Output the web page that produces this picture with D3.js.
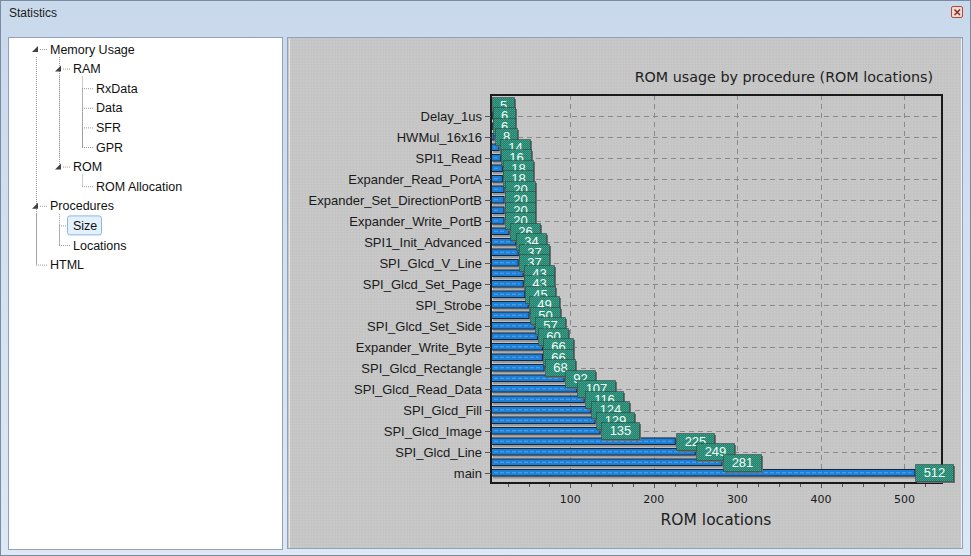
<!DOCTYPE html>
<html><head><meta charset="utf-8">
<script src="https://cdn.jsdelivr.net/npm/d3@7/dist/d3.min.js"></script>
<style>
html,body{margin:0;padding:0;background:#d9e4f1;}
svg{display:block;}
</style></head>
<body>
<svg id="c" width="971" height="556"></svg>
<script>
// ---- data ----
const procedures = [
  "Mul_16x16_U","Delay_1us","Delay_22us","HWMul_16x16","SPI1_Write","SPI1_Read",
  "Expander_Read_Byte","Expander_Read_PortA","Expander_Set_DirectionPortA","Expander_Set_DirectionPortB",
  "Expander_Write_PortA","Expander_Write_PortB","Expander_Init","SPI1_Init_Advanced",
  "SPI_Glcd_Set_X","SPI_Glcd_V_Line","SPI_Glcd_Write_Data","SPI_Glcd_Set_Page",
  "SPI_Glcd_H_Line","SPI_Strobe","SPI_Glcd_Dot","SPI_Glcd_Set_Side",
  "SPI_Glcd_Box","Expander_Write_Byte","SPI_Glcd_Circle","SPI_Glcd_Rectangle",
  "SPI_Glcd_Set_Font","SPI_Glcd_Read_Data","SPI_Glcd_Write_Char","SPI_Glcd_Fill",
  "SPI_Glcd_Init","SPI_Glcd_Image","SPI_Glcd_Write_Text","SPI_Glcd_Line",
  "SPI_Glcd_Fill_Rect","main"
];
const romLocations = [
  5,6,6,8,14,16,
  18,18,20,20,
  20,20,26,34,
  37,37,43,43,
  45,49,50,57,
  60,66,66,68,
  92,107,116,124,
  129,135,225,249,
  281,512
];
const xTicks = [100,200,300,400,500];
const xMinorStep = 25;
const chartTitle = "ROM usage by procedure (ROM locations)";
const xTitle = "ROM locations";
const treeItems = [
  {label:"Memory Usage", level:0, expander:true},
  {label:"RAM", level:1, expander:true},
  {label:"RxData", level:2},
  {label:"Data", level:2},
  {label:"SFR", level:2},
  {label:"GPR", level:2},
  {label:"ROM", level:1, expander:true},
  {label:"ROM Allocation", level:2},
  {label:"Procedures", level:0, expander:true},
  {label:"Size", level:1, selected:true},
  {label:"Locations", level:1},
  {label:"HTML", level:0}
];

const svg = d3.select("#c");
const defs = svg.append("defs");

// textures
const pTeal = defs.append("pattern").attr("id","teal").attr("width",2).attr("height",2).attr("patternUnits","userSpaceOnUse");
pTeal.append("rect").attr("width",2).attr("height",2).attr("fill","#237f6c");
pTeal.append("rect").attr("width",1).attr("height",1).attr("fill","#3fa58c");
pTeal.append("rect").attr("x",1).attr("y",1).attr("width",1).attr("height",1).attr("fill","#3a9a86");
const pGrey = defs.append("pattern").attr("id","grey").attr("width",3).attr("height",3).attr("patternUnits","userSpaceOnUse");
pGrey.append("rect").attr("width",3).attr("height",3).attr("fill","#c6c6c6");
pGrey.append("rect").attr("width",1).attr("height",1).attr("fill","#cbcbcb");
pGrey.append("rect").attr("x",2).attr("y",1).attr("width",1).attr("height",1).attr("fill","#c1c1c1");
const gTitle = defs.append("linearGradient").attr("id","tbar").attr("x1",0).attr("y1",0).attr("x2",0).attr("y2",1);
gTitle.append("stop").attr("offset","0").attr("stop-color","#c9d9ec");
gTitle.append("stop").attr("offset","1").attr("stop-color","#dde8f4");

// ---- window frame ----
svg.append("rect").attr("x",0).attr("y",0).attr("width",971).attr("height",556).attr("fill","#d8e3f0");
svg.append("rect").attr("x",0.5).attr("y",0.5).attr("width",970).attr("height",555).attr("fill","url(#tbar)").attr("stroke","#7a8aa0");
svg.append("text").attr("x",9).attr("y",17).attr("font-family","Liberation Sans, Arial, sans-serif")
  .attr("font-size",12).attr("fill","#1a1a1a").text("Statistics");
// close button
svg.append("rect").attr("x",951.5).attr("y",6.5).attr("width",11).attr("height",11).attr("rx",1.5)
  .attr("fill","#f3d8d0").attr("stroke","#b04a3a");
svg.append("path").attr("d","M954.5,9.5 L960,15 M960,9.5 L954.5,15").attr("stroke","#7a2a20").attr("stroke-width",1.4);

// ---- tree panel ----
svg.append("rect").attr("x",8.5).attr("y",37.5).attr("width",274).attr("height",512).attr("fill","#ffffff").attr("stroke","#8ea3bb");
const tree = svg.append("g");
const rowY = i => 49 + i*19.6;
const levelX = [50, 73, 96];
const dot = {"stroke":"#9a9a9a","stroke-dasharray":"1,1","stroke-width":1};
function dline(x1,y1,x2,y2){
  const l = tree.append("line").attr("x1",x1).attr("y1",y1).attr("x2",x2).attr("y2",y2);
  Object.entries(dot).forEach(([k,v])=>l.attr(k,v));
}
function connectorX(level){ return levelX[level]-14; }
treeItems.forEach((it,i)=>{
  const y = rowY(i);
  if(!it.expander){
    dline(connectorX(it.level), y+0.5, levelX[it.level]-2, y+0.5);
  }
});
treeItems.forEach((it,i)=>{
  let last = i;
  for(let j=i+1;j<treeItems.length;j++){
    if(treeItems[j].level < it.level) break;
    if(treeItems[j].level === it.level) last = j;
  }
  if(last>i){
    dline(connectorX(it.level)+0.5, rowY(i)+ (it.expander?8:0), connectorX(it.level)+0.5, rowY(last)+(treeItems[last].expander?-8:0));
  }
});
treeItems.forEach((it,i)=>{
  if(it.expander && i+1<treeItems.length && treeItems[i+1].level===it.level+1){
    let last=i+1;
    for(let j=i+1;j<treeItems.length;j++){
      if(treeItems[j].level<=it.level) break;
      if(treeItems[j].level===it.level+1) last=j;
    }
    dline(connectorX(it.level+1)+0.5, rowY(i)+8, connectorX(it.level+1)+0.5, rowY(last)+0.5);
  }
});
treeItems.forEach((it,i)=>{
  const y = rowY(i), x = levelX[it.level];
  if(it.selected){
    tree.append("rect").attr("x",x-5.5).attr("y",y-9.5).attr("width",34).attr("height",19).attr("rx",2.5)
      .attr("fill","#e3f1fc").attr("stroke","#8db6e2");
  }
  if(it.expander){
    const ex = x-17, ey = y;
    tree.append("path").attr("d",`M${ex+5},${ey-3} L${ex+5},${ey+3} L${ex-1},${ey+3} Z`).attr("fill","#404040");
    dline(ex+7, y+0.5, x-3, y+0.5);
  }
  tree.append("text").attr("x",x).attr("y",y+4.5).attr("font-family","Liberation Sans, Arial, sans-serif")
    .attr("font-size",12.5).attr("fill","#111").text(it.label);
});

// ---- chart panel ----
svg.append("rect").attr("x",287.5).attr("y",37.5).attr("width",675).attr("height",511).attr("fill","url(#grey)").attr("stroke","#8ea3bb");
svg.append("line").attr("x1",289.5).attr("y1",39).attr("x2",289.5).attr("y2",548).attr("stroke","#e8e8e8");
svg.append("line").attr("x1",961.5).attr("y1",39).attr("x2",961.5).attr("y2",548).attr("stroke","#f0f0f0");

const plot = {left:491, right:942, top:95, bottom:483};
const x = d3.scaleLinear().domain([5,545]).range([plot.left, plot.right]);
const y = d3.scaleBand().domain(procedures).range([plot.top+5, plot.bottom-5]).paddingInner(0.28).paddingOuter(0.14);

const g = svg.append("g");
const labeledIdx = procedures.map((p,i)=>i).filter(i=>i%2===1);
g.selectAll("line.hg").data(labeledIdx).enter().append("line")
  .attr("x1",plot.left).attr("x2",plot.right)
  .attr("y1",i=>Math.round(y(procedures[i])+y.bandwidth()/2)+0.5)
  .attr("y2",i=>Math.round(y(procedures[i])+y.bandwidth()/2)+0.5)
  .attr("stroke","#8a8a8a").attr("stroke-dasharray","5,4");
g.selectAll("line.vg").data(xTicks).enter().append("line")
  .attr("x1",d=>Math.round(x(d))+0.5).attr("x2",d=>Math.round(x(d))+0.5)
  .attr("y1",plot.top).attr("y2",plot.bottom)
  .attr("stroke","#8a8a8a").attr("stroke-dasharray","5,4");

// bars
const bars = g.selectAll("g.bar").data(procedures).enter().append("g");
bars.append("rect")
  .attr("x",plot.left+2).attr("y",d=>y(d)+2)
  .attr("width",(d,i)=>Math.max(0,x(romLocations[i])-plot.left))
  .attr("height",y.bandwidth()).attr("fill","#9a9a9a");
bars.append("rect")
  .attr("x",plot.left+0.5).attr("y",d=>y(d)+0.5)
  .attr("width",(d,i)=>Math.max(0,x(romLocations[i])-plot.left))
  .attr("height",y.bandwidth()-1).attr("fill","#1e7fd6").attr("stroke","#14243c");
bars.append("line")
  .attr("x1",plot.left+3).attr("x2",(d,i)=>Math.max(plot.left+3,x(romLocations[i])-3))
  .attr("y1",d=>y(d)+y.bandwidth()/2).attr("y2",d=>y(d)+y.bandwidth()/2)
  .attr("stroke","#56a6ee").attr("stroke-dasharray","4,2").attr("stroke-width",1);

g.append("rect").attr("x",plot.left).attr("y",plot.top).attr("width",plot.right-plot.left).attr("height",plot.bottom-plot.top)
  .attr("fill","none").attr("stroke","#1a1a1a").attr("stroke-width",2);

// value labels
const labs = g.selectAll("g.vl").data(procedures).enter().append("g");
labs.each(function(d,i){
  const gg = d3.select(this);
  const txt = String(romLocations[i]);
  const w = txt.length*8 + 14, h = 17;
  const bx = Math.round(x(romLocations[i]))+1, by = Math.round(y(d)+y.bandwidth()/2 - h/2);
  gg.append("rect").attr("x",bx+2).attr("y",by+2).attr("width",w).attr("height",h).attr("fill","#6e6e6e");
  gg.append("rect").attr("x",bx+0.5).attr("y",by+0.5).attr("width",w).attr("height",h).attr("fill","url(#teal)")
    .attr("stroke","#2a3a36").attr("stroke-dasharray","1,1");
  gg.append("text").attr("x",bx+w/2+0.5).attr("y",by+13).attr("text-anchor","middle")
    .attr("font-family","Liberation Sans, Arial, sans-serif").attr("font-size",13).attr("fill","#f4fff8").text(txt);
});

// y axis labels (every other category, as in the original)
const ya = svg.append("g");
labeledIdx.forEach(i=>{
  const cy = Math.round(y(procedures[i])+y.bandwidth()/2)+0.5;
  ya.append("line").attr("x1",485).attr("x2",plot.left).attr("y1",cy).attr("y2",cy).attr("stroke","#555");
  ya.append("text").attr("x",482).attr("y",cy+4.5).attr("text-anchor","end")
    .attr("font-family","Liberation Sans, Arial, sans-serif").attr("font-size",13).attr("fill","#1a1a1a").text(procedures[i]);
});

// x axis ticks
const xa = svg.append("g");
const minor = d3.range(xMinorStep, 545, xMinorStep);
minor.forEach(v=>{
  xa.append("line").attr("x1",Math.round(x(v))+0.5).attr("x2",Math.round(x(v))+0.5)
    .attr("y1",plot.bottom+1).attr("y2",plot.bottom+(xTicks.includes(v)?5:4)).attr("stroke","#555");
});
xTicks.forEach(v=>{
  xa.append("text").attr("x",x(v)).attr("y",503).attr("text-anchor","middle")
    .attr("font-family","DejaVu Sans, Verdana, sans-serif").attr("font-size",11).attr("fill","#1a1a1a").text(v);
});
svg.append("text").attr("x",716).attr("y",525).attr("text-anchor","middle")
  .attr("font-family","DejaVu Sans, Verdana, sans-serif").attr("font-size",15.5).attr("fill","#222").text(xTitle);
svg.append("text").attr("x",933).attr("y",82).attr("text-anchor","end")
  .attr("font-family","DejaVu Sans, Verdana, sans-serif").attr("font-size",14.3).attr("fill","#222").text(chartTitle);
</script>
</body></html>
